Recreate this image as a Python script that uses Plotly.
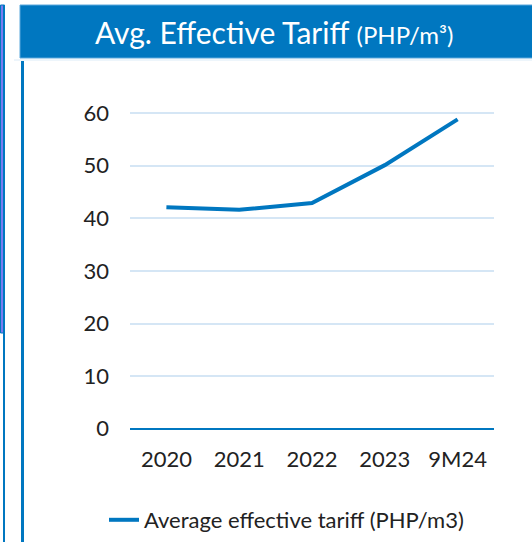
import plotly.graph_objects as go

categories = ["2020", "2021", "2022", "2023", "9M24"]
tariff = [42.1, 41.6, 42.9, 50.1, 58.8]
series_name = "Average effective tariff (PHP/m3)"
y_ticks = [0, 10, 20, 30, 40, 50, 60]

BLUE = "#0077C0"
GRID = "#D5E6F5"
FONT = "Lato, 'Open Sans', sans-serif"

W, H = 532, 542
L, R, T, B = 130, 38, 92, 108
pw, ph = W - L - R, H - T - B

def px(x):
    return (x - L) / pw

def py(y):
    return (H - B - y) / ph

fig = go.Figure()
fig.add_trace(go.Scatter(
    x=categories, y=tariff, mode="lines", name=series_name,
    line=dict(color=BLUE, width=4), showlegend=True,
))

shapes = [
    # header bar
    dict(type="rect", xref="paper", yref="paper", x0=px(20), x1=px(533), y0=py(58), y1=py(5),
         fillcolor=BLUE, line=dict(color="#5AA8DC", width=1), layer="above"),
    # faint line below header
    dict(type="line", xref="paper", yref="paper", x0=px(14), x1=px(532), y0=py(60), y1=py(60),
         line=dict(color="#DCEBF7", width=1)),
    # vertical frame line
    dict(type="line", xref="paper", yref="paper", x0=px(22.5), x1=px(22.5), y0=py(61), y1=py(545),
         line=dict(color=BLUE, width=3)),
    # left purple strip
    dict(type="rect", xref="paper", yref="paper", x0=px(0.5), x1=px(4.5), y0=py(333), y1=py(5),
         fillcolor="#7B7BEF", line=dict(color=BLUE, width=1)),
    dict(type="line", xref="paper", yref="paper", x0=px(4), x1=px(4), y0=py(5), y1=py(545),
         line=dict(color=BLUE, width=2)),
]

annotations = [
    dict(xref="paper", yref="paper", x=px(274), y=py(32), xanchor="center", yanchor="middle",
         showarrow=False,
         text="Avg. Effective Tariff <span style='font-size:24px'>(PHP/m³)</span>",
         font=dict(family=FONT, size=30, color="white")),
]

fig.update_layout(
    width=W, height=H,
    margin=dict(l=L, r=R, t=T, b=B, autoexpand=False),
    paper_bgcolor="white", plot_bgcolor="white",
    font=dict(family=FONT, size=22, color="#222222"),
    shapes=shapes, annotations=annotations,
    legend=dict(orientation="h", x=px(104), y=py(520), xanchor="left", yanchor="middle",
                font=dict(family=FONT, size=22, color="#222222"), bgcolor="rgba(0,0,0,0)"),
    xaxis=dict(type="category", range=[-0.5, 4.5], showgrid=False, zeroline=False, showline=False,
               ticks="", ticklabelstandoff=10, tickfont=dict(size=22)),
    yaxis=dict(range=[-1, 64], tickvals=y_ticks, showgrid=True, gridcolor=GRID, gridwidth=2,
               zeroline=True, zerolinecolor=BLUE, zerolinewidth=2, showline=False,
               ticks="", ticklabelstandoff=20, tickfont=dict(size=22)),
)

fig.write_html("out.html", config={"displayModeBar": False},
               post_script="document.body.style.margin='0px';document.body.style.overflow='hidden';")
